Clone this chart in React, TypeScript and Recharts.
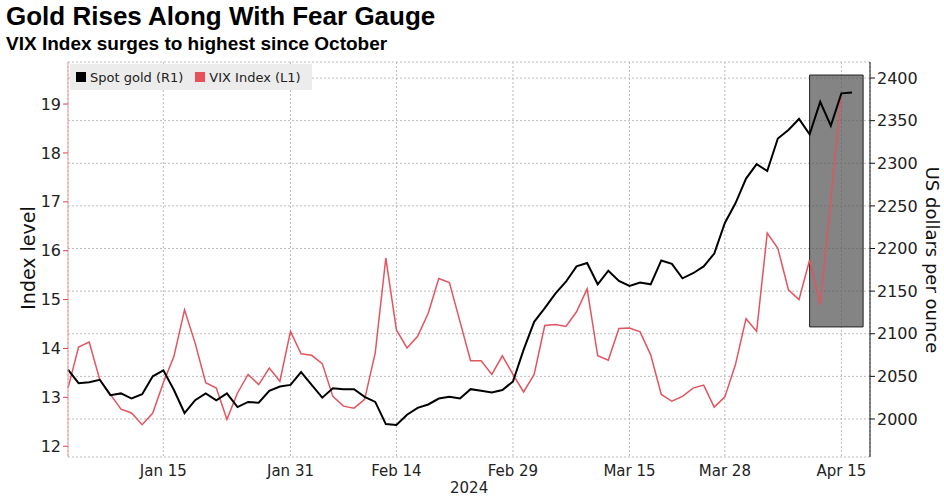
import React from 'react';
import { LineChart, Line, XAxis, YAxis, CartesianGrid, ReferenceArea } from 'recharts';

// trading-day index based series, Jan 2 .. Apr 16, 2024
const gold = [
  2058, 2042, 2043, 2046, 2028, 2030, 2024, 2029, 2050, 2057,
  2034, 2007, 2022, 2030, 2022, 2030, 2014, 2020, 2019, 2033,
  2038, 2040, 2055, 2040, 2025, 2036, 2035, 2035, 2026, 2020,
  1994, 1993, 2005, 2013, 2017, 2024, 2026, 2024, 2035, 2033,
  2031, 2034, 2044, 2081, 2114, 2130, 2147, 2161, 2179, 2183,
  2158, 2174, 2162, 2156, 2160, 2158, 2186, 2182, 2165, 2171,
  2179, 2194, 2230, 2253, 2282, 2299, 2291, 2329, 2339, 2352,
  2334, 2372, 2344, 2382, 2383,
];

const vix: (number | null)[] = [
  13.19, 14.03, 14.13, 13.36, 13.06, 12.76, 12.68, 12.44, 12.68, 13.3,
  13.84, 14.79, 14.11, 13.3, 13.19, 12.55, 13.09, 13.47, 13.26, 13.6,
  13.33, 14.35, 13.89, 13.86, 13.69, 13.02, 12.82, 12.78, 12.96, 13.91,
  15.85, 14.38, 14.01, 14.25, 14.72, 15.43, 15.35, 14.55, 13.75, 13.75,
  13.47, 13.85, 13.47, 13.11, 13.47, 14.47, 14.49, 14.45, 14.75, 15.22,
  13.85, 13.76, 14.41, 14.42, 14.34, 13.87, 13.06, 12.92, 13.02, 13.19,
  13.25, 12.8, 13.01, 13.67, 14.61, 14.35, 16.36, 16.05, 15.2, 15.0,
  15.81, 14.9, 17.04, 19.22, null,
];

const xTicks = [9, 21, 31, 42, 53, 62, 73];
const xLabels = ['Jan 15', 'Jan 31', 'Feb 14', 'Feb 29', 'Mar 15', 'Mar 28', 'Apr 15'];
const vixTicks = [12, 13, 14, 15, 16, 17, 18, 19];
const goldTicks = [2000, 2050, 2100, 2150, 2200, 2250, 2300, 2350, 2400];

const data = gold.map((g, i) => ({ i, gold: g, vix: vix[i] }));

const font = '"DejaVu Sans", sans-serif';

export default function App() {
  return (
    <div style={{ position: 'fixed', left: 0, top: 0, width: 944, height: 499, background: '#fff', fontFamily: font }}>
      <div style={{ position: 'absolute', left: 6, top: 1, fontSize: 26, fontWeight: 'bold', fontFamily: '"Liberation Sans", Arial, sans-serif' }}>
        Gold Rises Along With Fear Gauge
      </div>
      <div style={{ position: 'absolute', left: 6, top: 33, fontSize: 19, fontWeight: 'bold', fontFamily: '"Liberation Sans", Arial, sans-serif' }}>
        VIX Index surges to highest since October
      </div>
      <LineChart width={944} height={499} data={data} margin={{ top: 62, right: 0, bottom: 0, left: 0 }}>
        <CartesianGrid yAxisId="gold" stroke="#bbb" strokeDasharray="2 2" />
        <XAxis
          dataKey="i"
          type="number"
          domain={[0, 75.7]}
          ticks={xTicks}
          tickFormatter={(v: number) => xLabels[xTicks.indexOf(v)] ?? ''}
          axisLine={false}
          tickLine={false}
          height={42}
          tick={{ fill: '#222', fontSize: 15, fontFamily: font }}
          tickMargin={2}
        />
        <YAxis
          yAxisId="vix"
          orientation="left"
          domain={[11.78, 19.86]}
          ticks={vixTicks}
          width={68}
          axisLine={{ stroke: '#e8a0a0' }}
          tickLine={{ stroke: '#e04050' }}
          tickSize={5}
          tick={{ fill: '#222', fontSize: 16, fontFamily: font }}
        />
        <YAxis
          yAxisId="gold"
          orientation="right"
          domain={[1955.4, 2418.8]}
          ticks={goldTicks}
          width={74}
          axisLine={{ stroke: '#111' }}
          tickLine={{ stroke: '#111' }}
          tickSize={5}
          tick={{ fill: '#222', fontSize: 16, fontFamily: font }}
        />
        <Line yAxisId="vix" dataKey="vix" stroke="#e05560" strokeWidth={1.5} dot={false} isAnimationActive={false} />
        <Line yAxisId="gold" dataKey="gold" stroke="#000" strokeWidth={2} dot={false} isAnimationActive={false} />
        <ReferenceArea yAxisId="gold" x1={70} x2={75.05} y1={2108} y2={2403.5} fill="#555" fillOpacity={0.72} stroke="#222" strokeWidth={1} />
      </LineChart>
      <div style={{ position: 'absolute', left: 28, top: 258, transform: 'translate(-50%,-50%) rotate(-90deg)', fontSize: 19, whiteSpace: 'nowrap', color: '#111' }}>
        Index level
      </div>
      <div style={{ position: 'absolute', left: 932, top: 260, transform: 'translate(-50%,-50%) rotate(90deg)', fontSize: 18, whiteSpace: 'nowrap', color: '#111' }}>
        US dollars per ounce
      </div>
      <div style={{ position: 'absolute', left: 70, top: 64, width: 242, height: 26, background: '#ececec', fontSize: 13, display: 'flex', alignItems: 'center', gap: 4, paddingLeft: 6, boxSizing: 'border-box', color: '#222' }}>
        <span style={{ width: 10, height: 10, background: '#000', display: 'inline-block' }} />
        <span>Spot gold (R1)</span>
        <span style={{ width: 10, height: 10, background: '#e8505a', display: 'inline-block', marginLeft: 8 }} />
        <span>VIX Index (L1)</span>
      </div>
      <div style={{ position: 'absolute', left: 450, top: 479, fontSize: 15, color: '#222' }}>2024</div>
    </div>
  );
}
